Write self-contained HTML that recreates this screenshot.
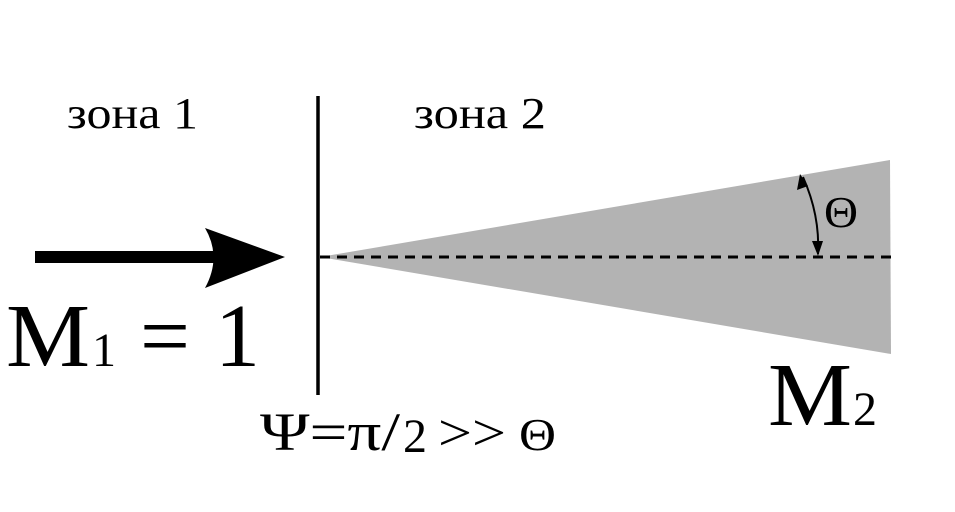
<!DOCTYPE html>
<html><head><meta charset="utf-8"><style>
html,body{margin:0;padding:0;background:#fff;}
svg{display:block}
text{font-family:"Liberation Serif",serif;fill:#000}
</style></head><body>
<svg width="955" height="512" viewBox="0 0 955 512">
<polygon points="320,257 890,160 891,354" fill="#b3b3b3"/>
<line x1="320" y1="257" x2="891" y2="257" stroke="#000" stroke-width="3" stroke-dasharray="10,7"/>
<line x1="318" y1="96" x2="318" y2="395" stroke="#000" stroke-width="3.5"/>
<rect x="35" y="251" width="185" height="12" fill="#000"/>
<path d="M285,257 L205,228 Q222,257 205,288 Z" fill="#000"/>
<path d="M803,177 Q820,215 818,254" fill="none" stroke="#000" stroke-width="2"/>
<path d="M800,174 L797,190 L808,186 Z" fill="#000"/>
<path d="M818,256 L812,241 L823,241 Z" fill="#000"/>
<text x="824" y="227" font-size="44" textLength="34" lengthAdjust="spacingAndGlyphs">Θ</text>
<text x="67" y="128" font-size="44" textLength="131" lengthAdjust="spacingAndGlyphs">зона 1</text>
<text x="414" y="128" font-size="44" textLength="132" lengthAdjust="spacingAndGlyphs">зона 2</text>
<text x="6" y="366" font-size="90" textLength="84" lengthAdjust="spacingAndGlyphs">M</text>
<text x="92" y="366" font-size="48">1</text>
<text x="140" y="366" font-size="90" textLength="50" lengthAdjust="spacingAndGlyphs">=</text>
<text x="215" y="366" font-size="90">1</text>
<text x="768" y="425" font-size="90" textLength="84" lengthAdjust="spacingAndGlyphs">M</text>
<text x="853" y="425" font-size="48">2</text>
<text x="260" y="450" font-size="54" textLength="140" lengthAdjust="spacingAndGlyphs">Ψ=π/</text>
<text x="403" y="452" font-size="48">2</text>
<text x="438" y="450" font-size="52" textLength="68" lengthAdjust="spacingAndGlyphs">&gt;&gt;</text>
<text x="519" y="450" font-size="46" textLength="37" lengthAdjust="spacingAndGlyphs">Θ</text>
</svg>
</body></html>
